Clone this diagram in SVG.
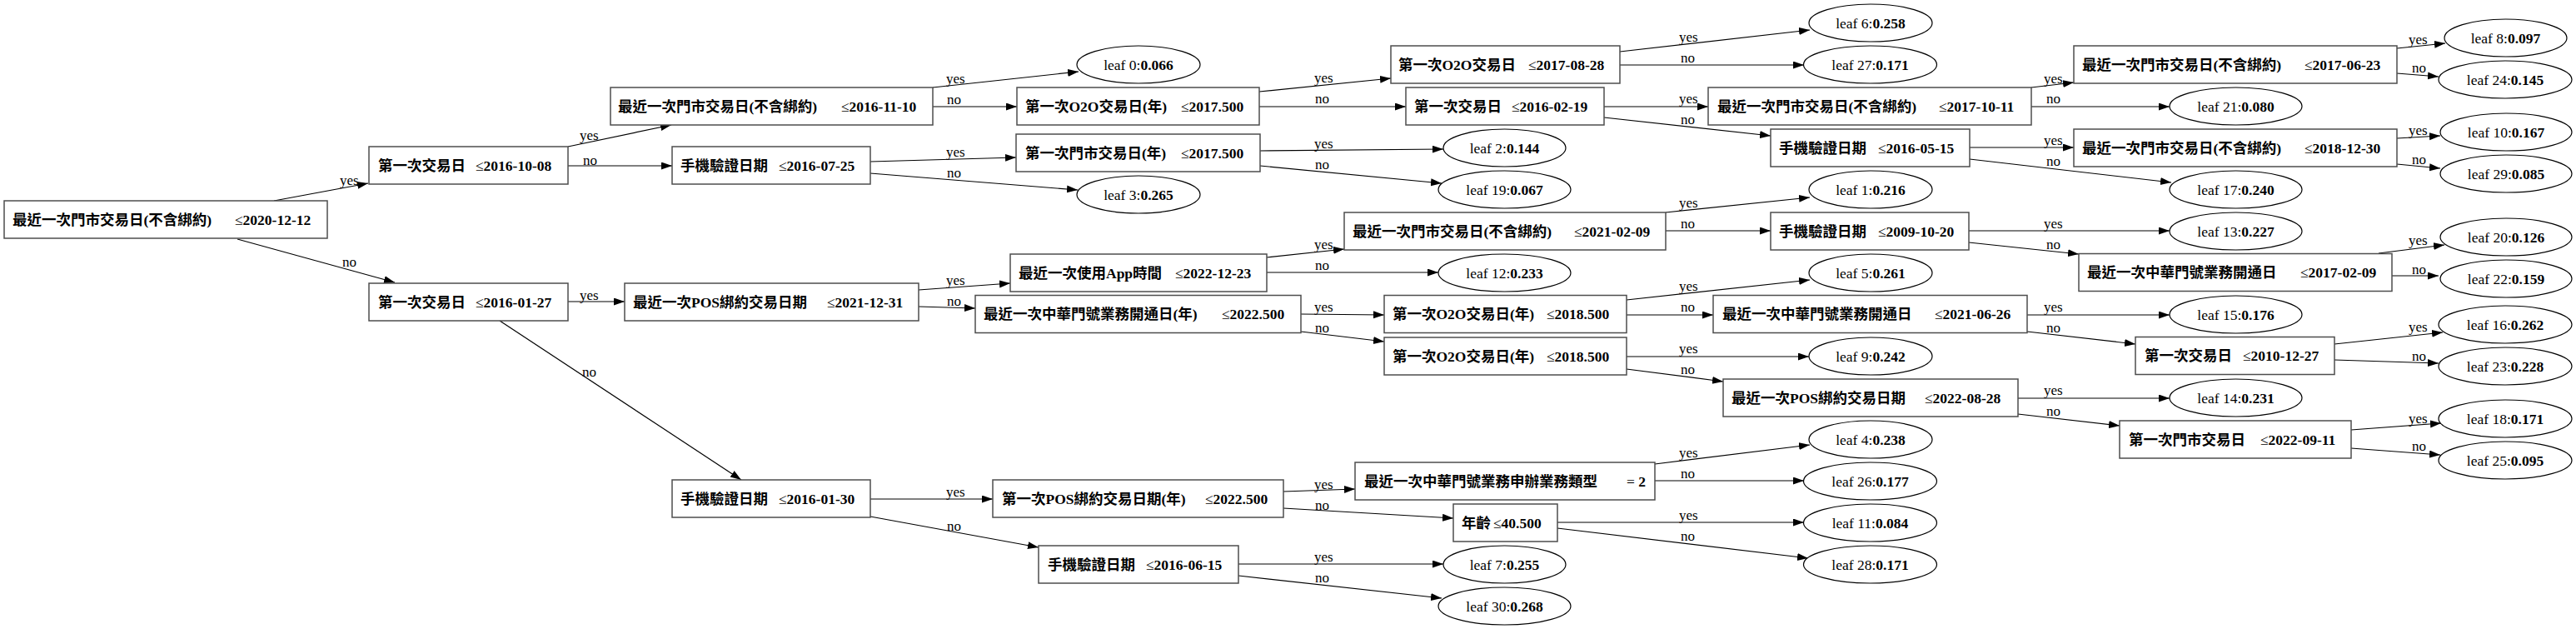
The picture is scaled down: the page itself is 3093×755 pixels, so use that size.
<svg xmlns="http://www.w3.org/2000/svg" width="3093" height="755" viewBox="0 0 3093 755">
<style>
.box{fill:#fff;stroke:#4d4d4d;stroke-width:1.5}
.leaf{fill:#fff;stroke:#000;stroke-width:1.2}
.t{font-family:"Liberation Serif","Noto Sans CJK TC",serif;font-size:17.5px;font-weight:bold;fill:#000}
.op{font-weight:normal}
.lt{font-family:"Liberation Serif","Noto Sans CJK TC",serif;font-size:17.5px;fill:#000;text-anchor:middle}
.lt tspan.v{font-weight:bold}
.e{stroke:#000;stroke-width:1.2;fill:none;marker-end:url(#ah)}
.el{font-family:"Liberation Serif",serif;font-size:17px;fill:#000}
</style>
<defs>
<marker id="ah" markerUnits="userSpaceOnUse" markerWidth="14" markerHeight="10" refX="13" refY="4.5" orient="auto"><path d="M0,0 L13,4.5 L0,9 z" fill="#000"/></marker>
</defs>
<rect width="3093" height="755" fill="#fff"/>
<g id="edges">
<line class="e" x1="329" y1="241" x2="442" y2="220"/>
<line class="e" x1="285" y1="287" x2="474" y2="339"/>
<line class="e" x1="682" y1="176" x2="806" y2="150"/>
<line class="e" x1="682" y1="199" x2="807" y2="199"/>
<line class="e" x1="682" y1="362" x2="750" y2="362"/>
<line class="e" x1="600" y1="385" x2="890" y2="576"/>
<line class="e" x1="1120" y1="105" x2="1295" y2="86"/>
<line class="e" x1="1120" y1="128" x2="1221" y2="128"/>
<line class="e" x1="1045" y1="194" x2="1220" y2="189"/>
<line class="e" x1="1045" y1="208" x2="1294" y2="228"/>
<line class="e" x1="1103" y1="348" x2="1213" y2="340"/>
<line class="e" x1="1103" y1="368" x2="1171" y2="370"/>
<line class="e" x1="1512" y1="110" x2="1670" y2="94"/>
<line class="e" x1="1512" y1="128" x2="1688" y2="128"/>
<line class="e" x1="1513" y1="181" x2="1733" y2="179"/>
<line class="e" x1="1513" y1="199" x2="1731" y2="220"/>
<line class="e" x1="1521" y1="309" x2="1614" y2="299"/>
<line class="e" x1="1521" y1="327" x2="1727" y2="327"/>
<line class="e" x1="1562" y1="377" x2="1662" y2="378"/>
<line class="e" x1="1562" y1="398" x2="1662" y2="410"/>
<line class="e" x1="1945" y1="62" x2="2173" y2="36"/>
<line class="e" x1="1945" y1="78" x2="2166" y2="78"/>
<line class="e" x1="1926" y1="128" x2="2051" y2="128"/>
<line class="e" x1="1926" y1="141" x2="2126" y2="163"/>
<line class="e" x1="2000" y1="255" x2="2173" y2="237"/>
<line class="e" x1="2000" y1="277" x2="2126" y2="277"/>
<line class="e" x1="1953" y1="360" x2="2173" y2="336"/>
<line class="e" x1="1953" y1="378" x2="2057" y2="378"/>
<line class="e" x1="1953" y1="428" x2="2172" y2="428"/>
<line class="e" x1="1953" y1="443" x2="2069" y2="458"/>
<line class="e" x1="2439" y1="105" x2="2490" y2="99"/>
<line class="e" x1="2439" y1="128" x2="2605" y2="128"/>
<line class="e" x1="2365" y1="177" x2="2490" y2="177"/>
<line class="e" x1="2365" y1="191" x2="2607" y2="219"/>
<line class="e" x1="2364" y1="277" x2="2605" y2="277"/>
<line class="e" x1="2364" y1="291" x2="2496" y2="305"/>
<line class="e" x1="2434" y1="378" x2="2605" y2="378"/>
<line class="e" x1="2434" y1="398" x2="2564" y2="413"/>
<line class="e" x1="2423" y1="478" x2="2605" y2="478"/>
<line class="e" x1="2423" y1="497" x2="2545" y2="511"/>
<line class="e" x1="2878" y1="58" x2="2936" y2="52"/>
<line class="e" x1="2878" y1="88" x2="2928" y2="92"/>
<line class="e" x1="2878" y1="166" x2="2930" y2="163"/>
<line class="e" x1="2878" y1="197" x2="2930" y2="202"/>
<line class="e" x1="2856" y1="304" x2="2935" y2="294"/>
<line class="e" x1="2872" y1="331" x2="2928" y2="331"/>
<line class="e" x1="2803" y1="413" x2="2933" y2="399"/>
<line class="e" x1="2803" y1="432" x2="2928" y2="436"/>
<line class="e" x1="2823" y1="516" x2="2931" y2="508"/>
<line class="e" x1="2823" y1="538" x2="2930" y2="546"/>
<line class="e" x1="1045" y1="599" x2="1192" y2="599"/>
<line class="e" x1="1045" y1="620" x2="1247" y2="657"/>
<line class="e" x1="1541" y1="590" x2="1627" y2="587"/>
<line class="e" x1="1541" y1="610" x2="1745" y2="622"/>
<line class="e" x1="1987" y1="557" x2="2173" y2="534"/>
<line class="e" x1="1987" y1="577" x2="2166" y2="577"/>
<line class="e" x1="1870" y1="627" x2="2166" y2="627"/>
<line class="e" x1="1870" y1="634" x2="2171" y2="670"/>
<line class="e" x1="1487" y1="677" x2="1733" y2="677"/>
<line class="e" x1="1487" y1="691" x2="1731" y2="718"/>
<g class="el">
<text x="408" y="222">yes</text><text x="411" y="320">no</text>
<text x="696" y="168">yes</text><text x="700" y="198">no</text>
<text x="696" y="360">yes</text><text x="699" y="452">no</text>
<text x="1136" y="100">yes</text><text x="1137" y="125">no</text>
<text x="1136" y="188">yes</text><text x="1137" y="213">no</text>
<text x="1136" y="342">yes</text><text x="1137" y="367">no</text>
<text x="1578" y="99">yes</text><text x="1579" y="124">no</text>
<text x="1578" y="178">yes</text><text x="1579" y="203">no</text>
<text x="1578" y="299">yes</text><text x="1579" y="324">no</text>
<text x="1578" y="374">yes</text><text x="1579" y="399">no</text>
<text x="2016" y="50">yes</text><text x="2018" y="75">no</text>
<text x="2016" y="124">yes</text><text x="2018" y="149">no</text>
<text x="2016" y="249">yes</text><text x="2018" y="274">no</text>
<text x="2016" y="349">yes</text><text x="2018" y="374">no</text>
<text x="2016" y="424">yes</text><text x="2018" y="449">no</text>
<text x="2016" y="549">yes</text><text x="2018" y="574">no</text>
<text x="2016" y="624">yes</text><text x="2018" y="649">no</text>
<text x="1136" y="596">yes</text><text x="1137" y="637">no</text>
<text x="1578" y="587">yes</text><text x="1579" y="612">no</text>
<text x="1578" y="674">yes</text><text x="1579" y="699">no</text>
<text x="2454" y="100">yes</text><text x="2457" y="124">no</text>
<text x="2454" y="174">yes</text><text x="2457" y="199">no</text>
<text x="2454" y="274">yes</text><text x="2457" y="299">no</text>
<text x="2454" y="374">yes</text><text x="2457" y="399">no</text>
<text x="2454" y="474">yes</text><text x="2457" y="499">no</text>
<text x="2892" y="53">yes</text><text x="2896" y="87">no</text>
<text x="2892" y="162">yes</text><text x="2896" y="197">no</text>
<text x="2892" y="294">yes</text><text x="2896" y="329">no</text>
<text x="2892" y="398">yes</text><text x="2896" y="433">no</text>
<text x="2892" y="508">yes</text><text x="2896" y="541">no</text>
</g>
</g>
<g id="node0"><rect class="box" x="5" y="241" width="388" height="45"/><text class="t" x="15" y="269.5">最近一次門市交易日(不含綁約)</text><text class="t" x="282" y="269.5"><tspan class="op">≤</tspan>2020-12-12</text></g>
<g id="node1"><rect class="box" x="443" y="176" width="239" height="45"/><text class="t" x="454" y="204.5">第一次交易日</text><text class="t" x="571" y="204.5"><tspan class="op">≤</tspan>2016-10-08</text></g>
<g id="node2"><rect class="box" x="443" y="340" width="239" height="45"/><text class="t" x="454" y="368.5">第一次交易日</text><text class="t" x="571" y="368.5"><tspan class="op">≤</tspan>2016-01-27</text></g>
<g id="node3"><rect class="box" x="733" y="105" width="387" height="45"/><text class="t" x="742" y="133.5">最近一次門市交易日(不含綁約)</text><text class="t" x="1010" y="133.5"><tspan class="op">≤</tspan>2016-11-10</text></g>
<g id="node4"><rect class="box" x="750" y="340" width="353" height="45"/><text class="t" x="760" y="368.5">最近一次POS綁約交易日期</text><text class="t" x="993" y="368.5"><tspan class="op">≤</tspan>2021-12-31</text></g>
<g id="node5"><rect class="box" x="1221" y="105" width="291" height="45"/><text class="t" x="1231" y="133.5">第一次O2O交易日(年)</text><text class="t" x="1418" y="133.5"><tspan class="op">≤</tspan>2017.500</text></g>
<g id="node6"><rect class="box" x="807" y="176" width="238" height="45"/><text class="t" x="817" y="204.5">手機驗證日期</text><text class="t" x="935" y="204.5"><tspan class="op">≤</tspan>2016-07-25</text></g>
<g id="node7"><rect class="box" x="1220" y="161" width="293" height="45"/><text class="t" x="1231" y="189.5">第一次門市交易日(年)</text><text class="t" x="1418" y="189.5"><tspan class="op">≤</tspan>2017.500</text></g>
<g id="node8"><rect class="box" x="1213" y="305" width="308" height="45"/><text class="t" x="1223" y="333.5">最近一次使用App時間</text><text class="t" x="1411" y="333.5"><tspan class="op">≤</tspan>2022-12-23</text></g>
<g id="node9"><rect class="box" x="1171" y="354.5" width="391" height="45"/><text class="t" x="1181" y="383">最近一次中華門號業務開通日(年)</text><text class="t" x="1467" y="383"><tspan class="op">≤</tspan>2022.500</text></g>
<g id="node10"><rect class="box" x="1670" y="55" width="275" height="45"/><text class="t" x="1679" y="83.5">第一次O2O交易日</text><text class="t" x="1835" y="83.5"><tspan class="op">≤</tspan>2017-08-28</text></g>
<g id="node11"><rect class="box" x="1688" y="105" width="238" height="45"/><text class="t" x="1698" y="133.5">第一次交易日</text><text class="t" x="1815" y="133.5"><tspan class="op">≤</tspan>2016-02-19</text></g>
<g id="node12"><rect class="box" x="2051" y="105" width="388" height="45"/><text class="t" x="2062" y="133.5">最近一次門市交易日(不含綁約)</text><text class="t" x="2328" y="133.5"><tspan class="op">≤</tspan>2017-10-11</text></g>
<g id="node13"><rect class="box" x="2126" y="155" width="239" height="45"/><text class="t" x="2136" y="183.5">手機驗證日期</text><text class="t" x="2255" y="183.5"><tspan class="op">≤</tspan>2016-05-15</text></g>
<g id="node14"><rect class="box" x="1614" y="255" width="386" height="45"/><text class="t" x="1624" y="283.5">最近一次門市交易日(不含綁約)</text><text class="t" x="1890" y="283.5"><tspan class="op">≤</tspan>2021-02-09</text></g>
<g id="node15"><rect class="box" x="2126" y="255" width="238" height="45"/><text class="t" x="2136" y="283.5">手機驗證日期</text><text class="t" x="2255" y="283.5"><tspan class="op">≤</tspan>2009-10-20</text></g>
<g id="node16"><rect class="box" x="1662" y="354.5" width="291" height="45"/><text class="t" x="1672" y="383">第一次O2O交易日(年)</text><text class="t" x="1857" y="383"><tspan class="op">≤</tspan>2018.500</text></g>
<g id="node17"><rect class="box" x="2057" y="354.5" width="377" height="45"/><text class="t" x="2068" y="383">最近一次中華門號業務開通日</text><text class="t" x="2323" y="383"><tspan class="op">≤</tspan>2021-06-26</text></g>
<g id="node18"><rect class="box" x="1662" y="405" width="291" height="45"/><text class="t" x="1672" y="433.5">第一次O2O交易日(年)</text><text class="t" x="1857" y="433.5"><tspan class="op">≤</tspan>2018.500</text></g>
<g id="node19"><rect class="box" x="2069" y="455" width="354" height="45"/><text class="t" x="2079" y="483.5">最近一次POS綁約交易日期</text><text class="t" x="2311" y="483.5"><tspan class="op">≤</tspan>2022-08-28</text></g>
<g id="node20"><rect class="box" x="1627" y="555" width="360" height="45"/><text class="t" x="1638" y="583.5">最近一次中華門號業務申辦業務類型</text><text class="t" x="1953" y="583.5"><tspan class="op">= </tspan>2</text></g>
<g id="node21"><rect class="box" x="1745" y="605" width="125" height="45"/><text class="t" x="1755" y="633.5">年齡</text><text class="t" x="1793" y="633.5"><tspan class="op">≤</tspan>40.500</text></g>
<g id="node22"><rect class="box" x="1192" y="576" width="349" height="45"/><text class="t" x="1203" y="604.5">第一次POS綁約交易日期(年)</text><text class="t" x="1447" y="604.5"><tspan class="op">≤</tspan>2022.500</text></g>
<g id="node23"><rect class="box" x="1247" y="655" width="240" height="45"/><text class="t" x="1258" y="683.5">手機驗證日期</text><text class="t" x="1376" y="683.5"><tspan class="op">≤</tspan>2016-06-15</text></g>
<g id="node24"><rect class="box" x="807" y="576" width="238" height="45"/><text class="t" x="817" y="604.5">手機驗證日期</text><text class="t" x="935" y="604.5"><tspan class="op">≤</tspan>2016-01-30</text></g>
<g id="node25"><rect class="box" x="2490" y="55" width="388" height="45"/><text class="t" x="2500" y="83.5">最近一次門市交易日(不含綁約)</text><text class="t" x="2767" y="83.5"><tspan class="op">≤</tspan>2017-06-23</text></g>
<g id="node26"><rect class="box" x="2490" y="155" width="388" height="45"/><text class="t" x="2500" y="183.5">最近一次門市交易日(不含綁約)</text><text class="t" x="2767" y="183.5"><tspan class="op">≤</tspan>2018-12-30</text></g>
<g id="node27"><rect class="box" x="2496" y="304.5" width="376" height="45"/><text class="t" x="2506" y="333">最近一次中華門號業務開通日</text><text class="t" x="2762" y="333"><tspan class="op">≤</tspan>2017-02-09</text></g>
<g id="node28"><rect class="box" x="2564" y="404.5" width="239" height="45"/><text class="t" x="2575" y="433">第一次交易日</text><text class="t" x="2693" y="433"><tspan class="op">≤</tspan>2010-12-27</text></g>
<g id="node29"><rect class="box" x="2545" y="505" width="278" height="45"/><text class="t" x="2556" y="533.5">第一次門市交易日</text><text class="t" x="2714" y="533.5"><tspan class="op">≤</tspan>2022-09-11</text></g>
<g id="leaf0"><ellipse class="leaf" cx="1367" cy="77.5" rx="74" ry="22.5"/><text class="lt" x="1367" y="83.5">leaf 0:<tspan class="v">0.066</tspan></text></g>
<g id="leaf3"><ellipse class="leaf" cx="1367" cy="233.5" rx="74" ry="22.5"/><text class="lt" x="1367" y="239.5">leaf 3:<tspan class="v">0.265</tspan></text></g>
<g id="leaf6"><ellipse class="leaf" cx="2246" cy="27.5" rx="74" ry="22.5"/><text class="lt" x="2246" y="33.5">leaf 6:<tspan class="v">0.258</tspan></text></g>
<g id="leaf27"><ellipse class="leaf" cx="2245.5" cy="77.5" rx="80" ry="22.5"/><text class="lt" x="2245.5" y="83.5">leaf 27:<tspan class="v">0.171</tspan></text></g>
<g id="leaf2"><ellipse class="leaf" cx="1806.5" cy="177.5" rx="73.5" ry="22.5"/><text class="lt" x="1806.5" y="183.5">leaf 2:<tspan class="v">0.144</tspan></text></g>
<g id="leaf19"><ellipse class="leaf" cx="1806.5" cy="227.5" rx="79.5" ry="22.5"/><text class="lt" x="1806.5" y="233.5">leaf 19:<tspan class="v">0.067</tspan></text></g>
<g id="leaf12"><ellipse class="leaf" cx="1806.5" cy="327.5" rx="79.5" ry="22.5"/><text class="lt" x="1806.5" y="333.5">leaf 12:<tspan class="v">0.233</tspan></text></g>
<g id="leaf1"><ellipse class="leaf" cx="2246" cy="227.5" rx="74" ry="22.5"/><text class="lt" x="2246" y="233.5">leaf 1:<tspan class="v">0.216</tspan></text></g>
<g id="leaf5"><ellipse class="leaf" cx="2246" cy="327.5" rx="74" ry="22.5"/><text class="lt" x="2246" y="333.5">leaf 5:<tspan class="v">0.261</tspan></text></g>
<g id="leaf9"><ellipse class="leaf" cx="2246" cy="427.5" rx="74" ry="22.5"/><text class="lt" x="2246" y="433.5">leaf 9:<tspan class="v">0.242</tspan></text></g>
<g id="leaf4"><ellipse class="leaf" cx="2246" cy="527.5" rx="74" ry="22.5"/><text class="lt" x="2246" y="533.5">leaf 4:<tspan class="v">0.238</tspan></text></g>
<g id="leaf26"><ellipse class="leaf" cx="2245.5" cy="577.5" rx="80" ry="22.5"/><text class="lt" x="2245.5" y="583.5">leaf 26:<tspan class="v">0.177</tspan></text></g>
<g id="leaf11"><ellipse class="leaf" cx="2245.5" cy="627.5" rx="80" ry="22.5"/><text class="lt" x="2245.5" y="633.5">leaf 11:<tspan class="v">0.084</tspan></text></g>
<g id="leaf28"><ellipse class="leaf" cx="2245.5" cy="677.5" rx="80" ry="22.5"/><text class="lt" x="2245.5" y="683.5">leaf 28:<tspan class="v">0.171</tspan></text></g>
<g id="leaf7"><ellipse class="leaf" cx="1806.5" cy="677.5" rx="73.5" ry="22.5"/><text class="lt" x="1806.5" y="683.5">leaf 7:<tspan class="v">0.255</tspan></text></g>
<g id="leaf30"><ellipse class="leaf" cx="1806.5" cy="727.5" rx="79.5" ry="22.5"/><text class="lt" x="1806.5" y="733.5">leaf 30:<tspan class="v">0.268</tspan></text></g>
<g id="leaf21"><ellipse class="leaf" cx="2684.5" cy="127.5" rx="79.5" ry="22.5"/><text class="lt" x="2684.5" y="133.5">leaf 21:<tspan class="v">0.080</tspan></text></g>
<g id="leaf17"><ellipse class="leaf" cx="2684.5" cy="227.5" rx="79.5" ry="22.5"/><text class="lt" x="2684.5" y="233.5">leaf 17:<tspan class="v">0.240</tspan></text></g>
<g id="leaf13"><ellipse class="leaf" cx="2684.5" cy="277.5" rx="79.5" ry="22.5"/><text class="lt" x="2684.5" y="283.5">leaf 13:<tspan class="v">0.227</tspan></text></g>
<g id="leaf15"><ellipse class="leaf" cx="2684.5" cy="377.5" rx="79.5" ry="22.5"/><text class="lt" x="2684.5" y="383.5">leaf 15:<tspan class="v">0.176</tspan></text></g>
<g id="leaf14"><ellipse class="leaf" cx="2684.5" cy="477.5" rx="79.5" ry="22.5"/><text class="lt" x="2684.5" y="483.5">leaf 14:<tspan class="v">0.231</tspan></text></g>
<g id="leaf8"><ellipse class="leaf" cx="3008.5" cy="45.5" rx="73.5" ry="22.5"/><text class="lt" x="3008.5" y="51.5">leaf 8:<tspan class="v">0.097</tspan></text></g>
<g id="leaf24"><ellipse class="leaf" cx="3008" cy="95.5" rx="80" ry="22.5"/><text class="lt" x="3008" y="101.5">leaf 24:<tspan class="v">0.145</tspan></text></g>
<g id="leaf10"><ellipse class="leaf" cx="3009" cy="158.5" rx="79" ry="22.5"/><text class="lt" x="3009" y="164.5">leaf 10:<tspan class="v">0.167</tspan></text></g>
<g id="leaf29"><ellipse class="leaf" cx="3009" cy="208.5" rx="79" ry="22.5"/><text class="lt" x="3009" y="214.5">leaf 29:<tspan class="v">0.085</tspan></text></g>
<g id="leaf20"><ellipse class="leaf" cx="3009" cy="284.5" rx="79" ry="22.5"/><text class="lt" x="3009" y="290.5">leaf 20:<tspan class="v">0.126</tspan></text></g>
<g id="leaf22"><ellipse class="leaf" cx="3009" cy="334.5" rx="79" ry="22.5"/><text class="lt" x="3009" y="340.5">leaf 22:<tspan class="v">0.159</tspan></text></g>
<g id="leaf16"><ellipse class="leaf" cx="3008" cy="389.5" rx="80" ry="22.5"/><text class="lt" x="3008" y="395.5">leaf 16:<tspan class="v">0.262</tspan></text></g>
<g id="leaf23"><ellipse class="leaf" cx="3008" cy="439.5" rx="80" ry="22.5"/><text class="lt" x="3008" y="445.5">leaf 23:<tspan class="v">0.228</tspan></text></g>
<g id="leaf18"><ellipse class="leaf" cx="3008" cy="502.5" rx="80" ry="22.5"/><text class="lt" x="3008" y="508.5">leaf 18:<tspan class="v">0.171</tspan></text></g>
<g id="leaf25"><ellipse class="leaf" cx="3008" cy="552.5" rx="80" ry="22.5"/><text class="lt" x="3008" y="558.5">leaf 25:<tspan class="v">0.095</tspan></text></g>
</svg>
